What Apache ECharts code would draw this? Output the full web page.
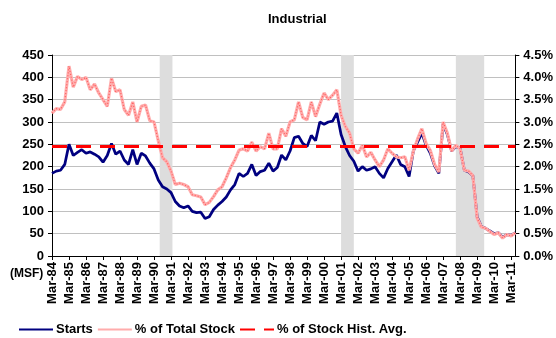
<!DOCTYPE html>
<html>
<head>
<meta charset="utf-8">
<script src="https://cdn.jsdelivr.net/npm/echarts@6/dist/echarts.min.js"></script>
<style>
  html, body { margin: 0; padding: 0; background: #fff; }
  #chart { width: 556px; height: 338px; }
</style>
</head>
<body>
<div id="chart"></div>
<script>
// Quarterly periods, Mar-84 through Jun-11
const quarterMonths = ['Mar', 'Jun', 'Sep', 'Dec'];
const categories = [];
for (let y = 1984; y <= 2011; y++) {
  for (const m of quarterMonths) {
    if (y === 2011 && (m === 'Sep' || m === 'Dec')) continue;
    categories.push(m + '-' + String(y % 100).padStart(2, '0'));
  }
}

// Industrial starts, million sq ft
const starts = [
  185, 190, 192, 205, 250, 225, 232, 238, 230, 233,
  228, 222, 210, 225, 252, 228, 235, 215, 205, 238,
  205, 230, 224, 208, 195, 170, 155, 150, 142, 122,
  112, 108, 112, 100, 97, 98, 84, 88, 104, 114,
  122, 132, 148, 160, 185, 178, 185, 205, 180, 189,
  192, 208, 190, 198, 226, 215, 235, 265, 268, 252,
  245, 270, 258, 300, 295, 300, 302, 320, 272, 245,
  225, 212, 190, 200, 192, 195, 200, 185, 175, 196,
  211, 226, 205, 200, 178, 235, 255, 275, 248, 230,
  202, 185, 295, 272, 235, 245, 242, 192, 188, 180,
  88, 66, 62, 56, 50, 52, 42, 48, 46, 52
];

// Starts as % of total industrial stock
const pctOfStock = [
  3.20, 3.30, 3.28, 3.45, 4.25, 3.78, 4.02, 3.95, 4.00, 3.72,
  3.85, 3.65, 3.50, 3.35, 3.98, 3.68, 3.72, 3.28, 3.15, 3.45,
  3.00, 3.35, 3.38, 3.03, 3.00, 2.58, 2.20, 2.11, 1.90, 1.60,
  1.63, 1.60, 1.55, 1.37, 1.35, 1.32, 1.15, 1.20, 1.33, 1.48,
  1.55, 1.75, 1.98, 2.15, 2.37, 2.40, 2.35, 2.55, 2.35, 2.45,
  2.40, 2.75, 2.40, 2.40, 2.85, 2.68, 3.00, 3.05, 3.45, 3.10,
  3.05, 3.45, 3.12, 3.40, 3.65, 3.50, 3.60, 3.72, 3.15, 2.90,
  2.75, 2.40, 2.30, 2.48, 2.22, 2.32, 2.15, 2.00, 2.15, 2.40,
  2.30, 2.22, 2.20, 2.22, 1.92, 2.35, 2.62, 2.85, 2.52, 2.36,
  2.05, 1.88, 3.00, 2.75, 2.35, 2.48, 2.40, 1.92, 1.90, 1.80,
  0.85, 0.65, 0.62, 0.55, 0.48, 0.52, 0.40, 0.48, 0.45, 0.52
];

// Historical average share of stock
const histAvgPct = 2.45;

// Recession periods (month labels)
const recessions = [['Jul-90', 'Apr-91'], ['Mar-01', 'Dec-01'], ['Dec-07', 'Aug-09']];

const leftTicks = { min: 0, max: 450, interval: 50 };
const rightTicks = { min: 0, max: 4.5, interval: 0.5 };

const monthNames = ['Jan','Feb','Mar','Apr','May','Jun','Jul','Aug','Sep','Oct','Nov','Dec'];
function monthsFromStart(label) {
  const [m, yy] = label.split('-');
  const year = 1900 + Number(yy) + (Number(yy) < 50 ? 100 : 0);
  return (year - 1984) * 12 + monthNames.indexOf(m) - 2;
}
const totalMonths = (categories.length - 1) * 3;

const font = 'Liberation Sans, Arial, sans-serif';
const bold = { fontFamily: font, fontWeight: 'bold', color: '#000' };
const pink = '#ffacac';

const chart = echarts.init(document.getElementById('chart'));
chart.setOption({
  animation: false,
  title: {
    text: 'Industrial',
    left: 263, top: 8,
    textStyle: Object.assign({ fontSize: 13 }, bold)
  },
  grid: { left: 52, right: 39, top: 55, bottom: 82, containLabel: false },
  legend: {
    data: ['Starts', '% of Total Stock', '% of Stock Hist. Avg.'],
    left: 13, top: 318,
    itemWidth: 34, itemHeight: 10, itemGap: 4,
    itemStyle: { opacity: 0 },
    textStyle: Object.assign({ fontSize: 13, padding: [0, 0, 0, -2] }, bold)
  },
  graphic: [{
    type: 'text', left: 10, top: 268,
    style: { text: '(MSF)', fontSize: 12, fill: '#000', fontFamily: font, fontWeight: 'bold' }
  }],
  xAxis: [{
    type: 'category',
    data: categories,
    boundaryGap: false,
    axisLine: { lineStyle: { color: '#000', width: 1 } },
    axisTick: { interval: 3, length: 4, lineStyle: { color: '#000' } },
    axisLabel: Object.assign({ interval: 3, rotate: 90, fontSize: 13, margin: 6 }, bold),
    splitLine: { show: false }
  }, {
    type: 'value', min: 0, max: totalMonths, show: false
  }],
  yAxis: [{
    type: 'value',
    min: leftTicks.min, max: leftTicks.max, interval: leftTicks.interval,
    axisLine: { show: true, lineStyle: { color: '#000', width: 1 } },
    axisTick: { show: true, length: 4, lineStyle: { color: '#000' } },
    axisLabel: Object.assign({ fontSize: 13, margin: 8 }, bold),
    splitLine: { lineStyle: { color: '#c0c0c0', width: 1 } }
  }, {
    type: 'value', position: 'right',
    min: rightTicks.min, max: rightTicks.max, interval: rightTicks.interval,
    axisLine: { show: true, lineStyle: { color: '#000', width: 1 } },
    axisTick: { show: true, length: 4, lineStyle: { color: '#000' } },
    axisLabel: Object.assign({ fontSize: 13, margin: 8, formatter: v => v.toFixed(1) + '%' }, bold),
    splitLine: { show: false }
  }],
  series: [{
    name: 'Recession',
    type: 'line',
    xAxisIndex: 1, yAxisIndex: 0,
    data: [],
    silent: true,
    markArea: {
      silent: true,
      itemStyle: { color: '#dddddd' },
      data: recessions.map(([s, e]) => [{ xAxis: monthsFromStart(s) }, { xAxis: monthsFromStart(e) }])
    }
  }, {
    name: 'Starts',
    type: 'line',
    data: starts,
    yAxisIndex: 0,
    symbol: 'none',
    lineStyle: { color: '#000080', width: 2.75 },
    itemStyle: { color: '#000080' }
  }, {
    name: '% of Total Stock',
    type: 'line',
    data: pctOfStock,
    yAxisIndex: 1,
    symbol: 'none',
    lineStyle: { color: pink, width: 3.2 },
    itemStyle: { color: pink }
  }, {
    // speckled texture drawn over the pink band
    name: '% of Total Stock texture',
    type: 'line',
    data: pctOfStock,
    yAxisIndex: 1,
    symbol: 'none',
    silent: true,
    lineStyle: { color: '#ff5c5c', width: 1.2, type: [1, 2] }
  }, {
    name: '% of Stock Hist. Avg.',
    type: 'line',
    data: categories.map(() => histAvgPct),
    yAxisIndex: 1,
    symbol: 'none',
    lineStyle: { color: '#ff0000', width: 3, type: [15, 9] },
    itemStyle: { color: '#ff0000' }
  }]
});
</script>
</body>
</html>
